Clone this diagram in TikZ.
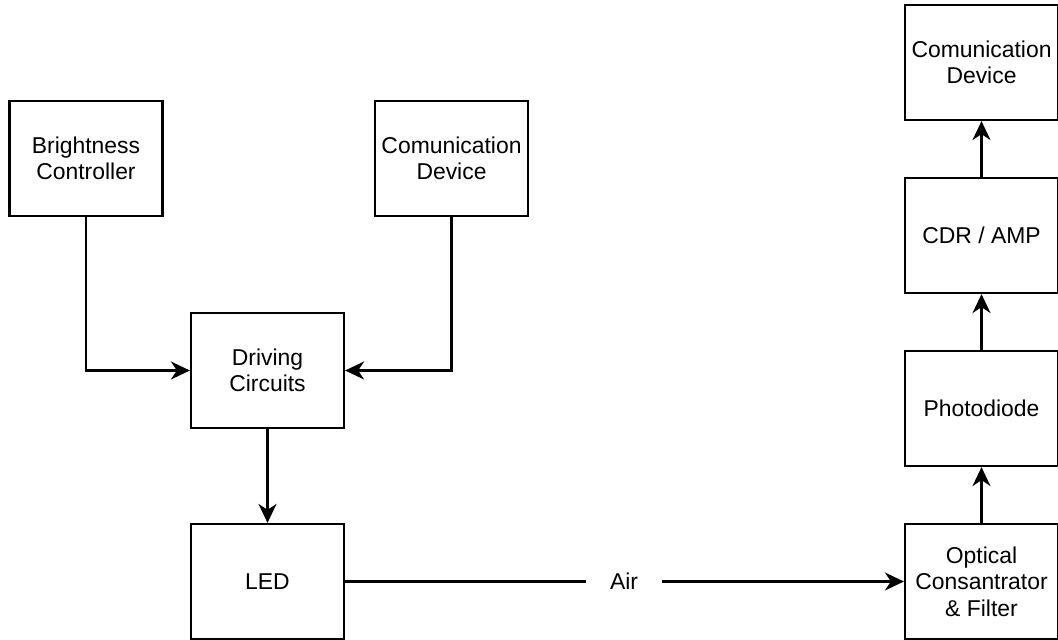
\documentclass[tikz,border=0pt]{standalone}
\usepackage{fontspec}
\setmainfont{Liberation Sans}
\usetikzlibrary{arrows.meta}
\begin{document}
\begin{tikzpicture}[x=1pt,y=-1pt,
  blk/.style={draw, line width=2.2pt, minimum width=153pt, minimum height=115pt, align=center, inner sep=0pt,
    font=\fontsize{22.9}{26.5}\selectfont},
  conn/.style={line width=2.2pt},
  arr/.style={conn, -{Stealth[length=19pt,width=18pt,inset=6pt]}},
  lbl/.style={fill=white, inner xsep=24pt, inner ysep=2pt, font=\fontsize{22.9}{26.5}\selectfont}]
\useasboundingbox (0,0) rectangle (1058,640);
\node[blk] (bc) at (86,158.5) {Brightness\\Controller};
\node[blk] (cl) at (451.5,158.5) {Comunication\\Device};
\node[blk] (dc) at (267.5,370.5) {Driving\\Circuits};
\node[blk] (led) at (267.5,581.5) {LED};
\node[blk] (cr) at (981.5,62.5) {Comunication\\Device};
\node[blk] (cdr) at (981.5,235.5) {CDR / AMP};
\node[blk] (pd) at (981.5,408.5) {Photodiode};
\node[blk] (oc) at (981.5,581.5) {Optical\\Consantrator\\\& Filter};
\node[lbl] (air) at (624,581.5) {Air};
\draw[arr] (bc.south) |- (dc.west);
\draw[arr] (cl.south) |- (dc.east);
\draw[arr] (dc.south) -- (led.north);
\draw[conn] (led.east) -- (air.west);
\draw[arr] (air.east) -- (oc.west);
\draw[arr] (oc.north) -- (pd.south);
\draw[arr] (pd.north) -- (cdr.south);
\draw[arr] (cdr.north) -- (cr.south);
\end{tikzpicture}
\end{document}
